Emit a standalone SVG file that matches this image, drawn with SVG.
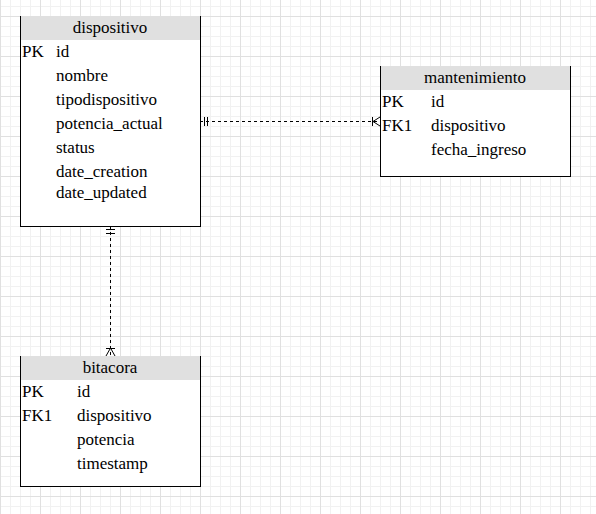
<svg xmlns="http://www.w3.org/2000/svg" width="596" height="514" viewBox="0 0 596 514">
<style>
.t{font-family:"Liberation Serif","Times New Roman",serif;font-size:17px;fill:#000}
.c{text-anchor:middle}
.box{fill:#fff;stroke:#000;stroke-width:1}
.hdr{fill:#e0e0e0;stroke:none}
.ln{fill:none;stroke:#000;stroke-width:1}
.dash{stroke-dasharray:3 3}
</style>
<defs>
<pattern id="minor" patternUnits="userSpaceOnUse" x="0" y="6" width="10" height="10">
<path d="M0 0.5H10M0.5 0V10" fill="none" stroke="#f1f1f1" stroke-width="1"/>
</pattern>
<pattern id="major" patternUnits="userSpaceOnUse" x="0" y="16" width="40" height="40">
<path d="M0 0.5H40M0.5 0V40" fill="none" stroke="#e0e0e0" stroke-width="1"/>
</pattern>
</defs>
<rect width="596" height="514" fill="#fff"/>
<rect width="596" height="514" fill="url(#minor)"/>
<rect width="596" height="514" fill="url(#major)"/>

<g id="connectors">
<g id="e1">
<path class="ln dash" d="M200 121.5H380"/>
<path class="ln" d="M204.5 117V126M207.5 117V126M372.5 117V126M373 121.5L380 117M373 121.5L380 126"/>
</g>
<g id="e2">
<path class="ln dash" d="M110.5 226V356"/>
<path class="ln" d="M106 229.5H115M106 233.5H115M106 348.5H115M110.5 348L106 356M110.5 348L115 356"/>
</g>
</g>

<g id="dispositivo">
<rect class="box" x="20.5" y="16.5" width="180" height="210"/>
<rect class="hdr" x="21" y="16" width="179" height="24"/>
<text class="t c" x="110" y="33">dispositivo</text>
<text class="t" x="22" y="57">PK</text>
<text class="t" x="56" y="57">id</text>
<text class="t" x="56" y="81">nombre</text>
<text class="t" x="56" y="105">tipodispositivo</text>
<text class="t" x="56" y="129">potencia_actual</text>
<text class="t" x="56" y="153">status</text>
<text class="t" x="56" y="177">date_creation</text>
<text class="t" x="56" y="198">date_updated</text>
</g>

<g id="mantenimiento">
<rect class="box" x="380.5" y="66.5" width="190" height="110"/>
<rect class="hdr" x="381" y="66" width="189" height="24"/>
<text class="t c" x="475" y="83">mantenimiento</text>
<text class="t" x="382" y="107">PK</text>
<text class="t" x="431" y="107">id</text>
<text class="t" x="382" y="131">FK1</text>
<text class="t" x="431" y="131">dispositivo</text>
<text class="t" x="431" y="155">fecha_ingreso</text>
</g>

<g id="bitacora">
<rect class="box" x="20.5" y="356.5" width="180" height="130"/>
<rect class="hdr" x="21" y="356" width="179" height="24"/>
<text class="t c" x="110" y="373">bitacora</text>
<text class="t" x="22" y="397">PK</text>
<text class="t" x="77" y="397">id</text>
<text class="t" x="22" y="421">FK1</text>
<text class="t" x="77" y="421">dispositivo</text>
<text class="t" x="77" y="445">potencia</text>
<text class="t" x="77" y="469">timestamp</text>
</g>
</svg>
